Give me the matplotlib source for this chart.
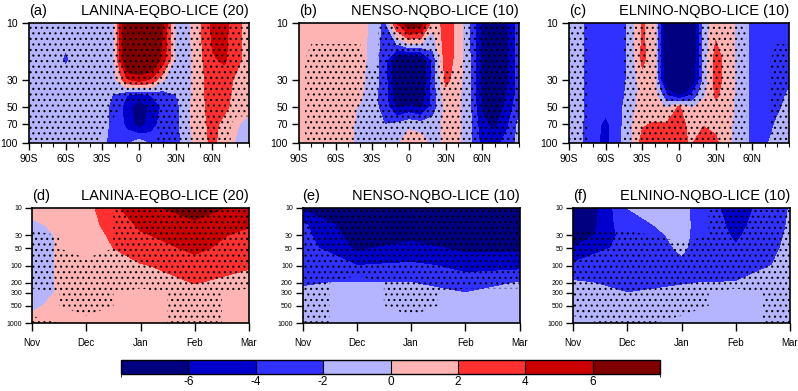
import numpy as np
import matplotlib
matplotlib.use('Agg')
import matplotlib.pyplot as plt
from matplotlib.colors import ListedColormap, BoundaryNorm
from matplotlib.cm import ScalarMappable
from matplotlib.ticker import NullLocator

plt.rcParams['font.family'] = ['Liberation Sans', 'DejaVu Sans']
plt.rcParams['hatch.linewidth'] = 0.8

# ---- axes / shading ----
lats = list(range(-90, 91, 10))
plev_top = [10, 20, 30, 40, 50, 70, 100]
months = [0, 1, 2, 3, 4]
month_labels = ['Nov', 'Dec', 'Jan', 'Feb', 'Mar']
plev_bot = [10, 20, 30, 50, 100, 200, 300, 500, 1000]

cb_levels = [-8, -6, -4, -2, 0, 2, 4, 6, 8]
fill_levels = [-99, -6, -4, -2, 0, 2, 4, 6, 99]
colors = ['#000080', '#0000cd', '#3030ff', '#b4b4ff',
          '#ffb4b4', '#ff3030', '#cc0000', '#800000']

titles = ['LANINA-EQBO-LICE (20)', 'NENSO-NQBO-LICE (10)', 'ELNINO-NQBO-LICE (10)']

# ---- (a) lat-height, rows = plev_top ----
a_val = [
    [-1, -1, -1, -1, -1, -1, -1, 0, 9.5, 10, 9.5, 6, -0.5, -0.5, 1.8, 4.5, 4.8, 2.3, 1.5],
    [-1, -1, -1, -2.4, -1, -1, -1, 0, 9, 9.5, 9, 5, -0.5, -0.6, 1.5, 3.8, 4.3, 2.5, 1.2],
    [-1, -1, -1, -1, -1, -1, -1, -0.5, 3.5, 4.5, 3.5, 0, -0.6, -0.5, 1.3, 3.2, 3, 1.5, 0.5],
    [-1, -1, -1, -1, -1, -1, -1.2, -2.2, -4, -5, -4, -3, -2.1, -0.5, 1.3, 3.1, 2.8, 1.2, 0.5],
    [-1, -1, -1, -1, -1, -1, -1.5, -2.5, -5, -7.5, -5.5, -3.5, -2.8, -0.4, 1.3, 3, 2.5, 1, 0.5],
    [-1, -1, -1, -1, -1, -1, -1.5, -2.5, -4.5, -7, -5, -3, -2.8, -0.3, 1, 2.8, 1.2, 0.2, -0.8],
    [-1, -1, -1, -1, -1, -1, -1.5, -3, -2.5, -0.5, -2.5, -4.3, -3, -0.5, 1, 2.5, 1, -0.3, -1],
]
a_sig = [
    [1] * 19,
    [1] * 19,
    [1] * 19,
    [1] * 19,
    [1] * 8 + [0, 0] + [1] * 9,
    [1] * 7 + [0, 0, 0, 0] + [1] * 6 + [0, 0],
    [1] * 6 + [0] * 5 + [1] * 6 + [0, 0],
]

# ---- (b) ----
b_val = [
    [1, 1, 1, 1, 1, 1.2, -0.8, -2.5, 4, 8, 7, 0.5, 3, 1.5, -2.2, -6.5, -7.5, -6.3, -3],
    [1, 1, 1, 1, 1, 1, -1, -3, -8, -8.5, -8, -3, 3.2, 1.2, -2, -6.8, -7.5, -6.5, -3],
    [1, 1, 1, 1, 1, 0.5, -1, -3, -8, -8.5, -8, -3, 2.5, 1, -2, -6.8, -7.5, -6.5, -3],
    [1, 1, 1, 1, 0.8, 0.3, -1.2, -3, -7.5, -8, -7.5, -3, 1.2, 0.6, -2, -6.5, -7.5, -6, -3],
    [1, 1, 1, 1, 0.6, -0.2, -1.3, -2.8, -6.5, -5.5, -6.5, -3, 0.6, 0.5, -1.8, -6.3, -7.3, -5.5, -2.5],
    [1, 1, 1, 1, 0.5, -0.5, -1.2, -2, -1.5, -0.5, -1, -1, 0.5, 0.5, -1.5, -5.5, -6.5, -4.5, -1.5],
    [1, 1, 1, 0.8, 0.5, -0.5, -1.2, -1.5, -0.5, 1.5, 1.2, -0.8, 0.5, 0.5, -1.5, -4.8, -5, -3, -1.5],
]
b_sig = [
    [0, 0, 0, 0, 0, 0, 0, 1, 1, 1, 1, 1, 0, 0, 1, 1, 1, 1, 1],
    [0, 1, 1, 1, 1, 1, 0, 1, 1, 1, 1, 1, 0, 0, 1, 1, 1, 1, 1],
    [0] + [1] * 18,
    [0] + [1] * 18,
    [0] + [1] * 18,
    [0] + [1] * 18,
    [0] + [1] * 18,
]

# ---- (c) ----
c_val = [
    [-1, -1.8, -3, -3.5, -3, -1.5, 2.3, 0.5, -9, -10, -9, -1.5, 1.5, 1, -1, -2.5, -3, -3, -2.8],
    [-1, -1.8, -3, -3.5, -3, -1.5, 2.5, 0.5, -9, -10, -9, -1.5, 2.8, 1.2, -1, -2.5, -3, -3, -2.6],
    [-1, -1.8, -3, -3.5, -3, -1.5, 1.2, 0.5, -8.5, -10, -8.5, -1.5, 2.8, 1.2, -1, -2.5, -3, -2.8, -2.2],
    [-1, -1.8, -3, -3.5, -3, -1.2, 0.8, 0.8, -4, -6.5, -4, -0.5, 2.3, 1, -1, -2.5, -3, -2.5, -1.8],
    [-1, -1.8, -3, -3.5, -2.8, -0.8, 1, 1, -0.3, 2.2, -0.3, 1, 1.5, 1, -1, -2.5, -3, -2.3, -1.6],
    [-1, -1.8, -3.2, -4.5, -2.8, -0.5, 1.8, 2.2, 2.2, 2.5, 1.6, 1.9, 1.5, 0.5, -1, -2.5, -2.8, -1.8, -1],
    [-1, -1.8, -3.5, -4.6, -2.5, -0.5, 2.8, 3, 3, 2.5, 1.8, 3, 2.5, 0.5, -1, -2.5, -2.5, -1, -0.7],
]
c_sig = [
    [1, 1, 0, 0, 0, 1, 1, 1, 0, 0, 0, 1, 1, 1, 1, 0, 0, 0, 0],
    [1, 1, 0, 0, 0, 1, 1, 1, 0, 0, 0, 1, 1, 1, 1, 0, 0, 1, 1],
    [1, 1, 0, 0, 0, 1, 1, 1, 0, 0, 0, 1, 1, 1, 1, 0, 0, 1, 1],
    [1, 1, 0, 0, 0, 1, 1, 1, 1, 0, 1, 1, 1, 1, 1, 0, 0, 1, 1],
    [1, 1, 0, 0, 0, 1, 1, 1, 1, 1, 1, 1, 1, 1, 1, 0, 0, 1, 1],
    [1, 1, 0, 0, 0, 1, 1, 1, 1, 1, 1, 1, 1, 1, 1, 0, 0, 1, 1],
    [1, 1, 0, 0, 0, 1, 1, 1, 1, 1, 1, 1, 1, 1, 1, 0, 0, 1, 1],
]

# ---- (d)-(f) time-height, rows = plev_bot, cols = months ----
d_val = [
    [0.5, 1.3, 5.6, 6.6, 5.5],
    [-0.4, 1.2, 4.3, 5.6, 4.2],
    [-0.7, 1.0, 3.7, 5.2, 3.2],
    [-0.7, 1.0, 3.0, 4.4, 3.0],
    [-0.7, 1.0, 1.8, 3.0, 2.1],
    [-0.7, 1.0, 1.2, 2.05, 1.5],
    [-0.7, 1.0, 0.8, 1.2, 1.0],
    [-0.2, 0.8, 0.6, 1.0, 0.8],
    [0.5, 0.5, 0.5, 0.5, -0.1],
]
d_sig = [
    [0, 0, 1, 1, 1],
    [0, 0, 1, 1, 1],
    [1, 0, 1, 1, 1],
    [1, 0, 1, 1, 1],
    [1, 1, 1, 1, 1],
    [1, 1, 1, 1, 1],
    [0, 1, 0, 1, 0],
    [0, 1, 0, 1, 0],
    [1, 0, 0, 1, 0],
]

e_val = [
    [-6.2, -8, -8, -8, -8],
    [-3.6, -7.5, -7.2, -7.5, -7.5],
    [-3.4, -7, -6.5, -7, -7],
    [-3.0, -6.3, -5.3, -6.4, -6.4],
    [-2.8, -4, -3.6, -4.5, -4.5],
    [-2.1, -1.9, -2, -3, -1.9],
    [-1.8, -1.5, -1.5, -2, -1.5],
    [-1.5, -1.2, -1.3, -1.4, -1.3],
    [-1, -1, -1, -1, -1],
]
e_sig = [
    [1, 1, 1, 1, 1],
    [1, 1, 1, 1, 1],
    [1, 1, 1, 1, 1],
    [1, 1, 1, 1, 1],
    [1, 1, 1, 1, 1],
    [1, 0, 1, 1, 1],
    [1, 0, 1, 0, 0],
    [1, 0, 1, 0, 0],
    [1, 0, 0, 0, 0],
]

f_val = [
    [-9.5, -2.0, -1.5, -5, -1.9],
    [-8.8, -2.5, -1.5, -4.6, -1.8],
    [-8, -3, -1.6, -4.3, -1.7],
    [-5.8, -3.2, -1.8, -3.8, -1.6],
    [-3.5, -3, -2.4, -3, -1.5],
    [-1.7, -2.5, -2.05, -1.9, -1.3],
    [-1.5, -2.0, -1.8, -1.5, -1.2],
    [-1.3, -1.5, -1.4, -1.3, -1.1],
    [-1, -1.2, -1.1, -1, -1],
]
f_sig = [
    [0, 0, 0, 1, 1],
    [0, 0, 0, 1, 1],
    [1, 1, 0, 1, 1],
    [1, 1, 1, 1, 1],
    [1, 1, 1, 1, 1],
    [1, 1, 1, 1, 1],
    [1, 1, 1, 0, 1],
    [1, 1, 1, 0, 1],
    [0, 1, 0, 0, 1],
]

W, H = 798, 391
fig = plt.figure(figsize=(W / 100, H / 100), dpi=100)


def rect(left, top, w, h):
    return [left / W, 1 - (top + h) / H, w / W, h / H]


def shade(ax, x, y, val, sig):
    ax.contourf(x, y, np.array(val), levels=fill_levels, colors=colors)
    ax.contourf(x, y, np.array(sig), levels=[0.5, 1.5], colors='none', hatches=['...'])
    ax.set_yscale('log')
    ax.yaxis.set_minor_locator(NullLocator())
    for s in ax.spines.values():
        s.set_linewidth(1.2)


def title(ax, tag, text):
    ax.set_title(tag, loc='left', fontsize=10.5, pad=6)
    ax.set_title(text, loc='right', fontsize=10.5, pad=6)


# top row
for i, (val, sig, tag) in enumerate([(a_val, a_sig, '(a)'), (b_val, b_sig, '(b)'), (c_val, c_sig, '(c)')]):
    ax = fig.add_axes(rect(29 + 270 * i, 23, 220, 120))
    shade(ax, lats, plev_top, val, sig)
    ax.set_xlim(-90, 90)
    ax.set_ylim(100, 10)
    ax.set_xticks([-90, -60, -30, 0, 30, 60])
    ax.set_xticklabels(['90S', '60S', '30S', '0', '30N', '60N'])
    ax.set_xticks(range(-90, 91, 10), minor=True)
    ax.set_yticks([10, 30, 50, 70, 100])
    ax.set_yticklabels(['10', '30', '50', '70', '100'])
    ax.tick_params(which='major', length=5, width=1, labelsize=7.5, pad=3)
    ax.tick_params(which='minor', length=3, width=0.8)
    ax.tick_params(axis='y', which='minor', length=0)
    title(ax, tag, titles[i])

# bottom row
for i, (val, sig, tag) in enumerate([(d_val, d_sig, '(d)'), (e_val, e_sig, '(e)'), (f_val, f_sig, '(f)')]):
    ax = fig.add_axes(rect(32 + 270.5 * i, 208, 217, 115))
    shade(ax, months, plev_bot, val, sig)
    ax.set_xlim(0, 4)
    ax.set_ylim(1000, 10)
    ax.set_xticks(months)
    ax.set_xticklabels(month_labels)
    ax.set_yticks([10, 30, 50, 100, 200, 300, 500, 1000])
    ax.set_yticklabels(['10', '30', '50', '100', '200', '300', '500', '1000'])
    ax.tick_params(axis='x', length=6, width=1, labelsize=7, pad=5)
    ax.tick_params(axis='y', length=5, width=1, labelsize=5, pad=2)
    title(ax, tag, titles[i])

# colorbar
cax = fig.add_axes(rect(121, 360, 539, 14))
sm = ScalarMappable(norm=BoundaryNorm(cb_levels, len(colors)), cmap=ListedColormap(colors))
cb = fig.colorbar(sm, cax=cax, orientation='horizontal', ticks=[-6, -4, -2, 0, 2, 4, 6], drawedges=True)
cb.ax.set_xticklabels(['-6', '-4', '-2', '0', '2', '4', '6'])
cb.ax.tick_params(length=0, labelsize=8.5, pad=1.5)
cb.outline.set_linewidth(1.0)
cb.dividers.set_linewidth(0.8)

fig.savefig('out.png', dpi=100)
